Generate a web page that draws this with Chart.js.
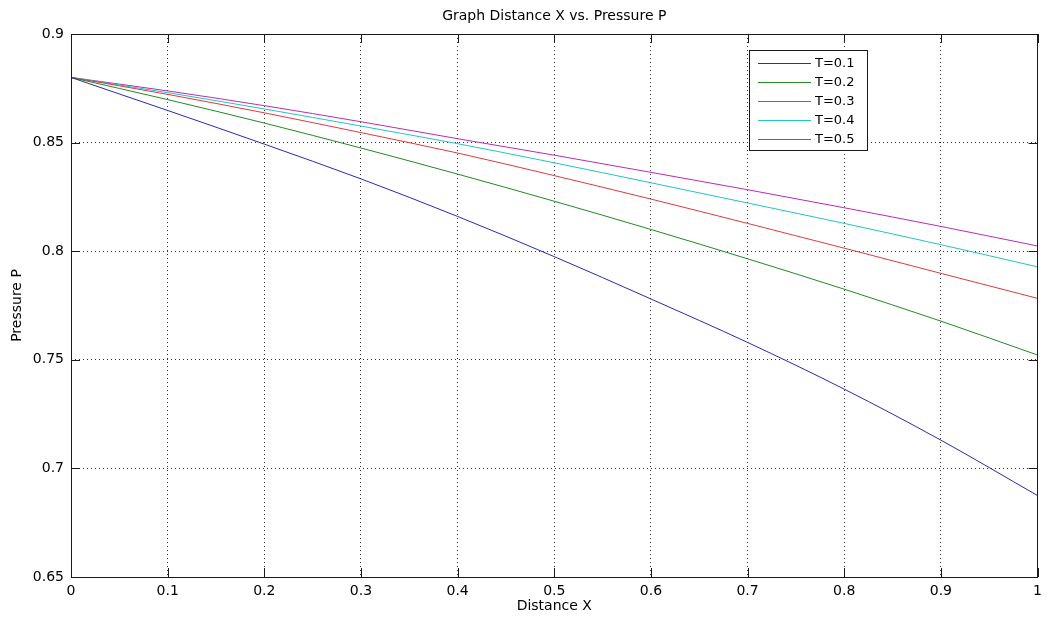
<!DOCTYPE html>
<html>
<head>
<meta charset="utf-8">
<script src="https://cdn.jsdelivr.net/npm/chart.js@4.4.0/dist/chart.umd.min.js"></script>
<style>
html,body{margin:0;padding:0;background:#fff;}
#wrap{width:1048px;height:617px;}
</style>
</head>
<body>
<div id="wrap"><canvas id="c" width="1048" height="617"></canvas></div>
<script>
// ---- data ----
const distanceX = [0, 0.1, 0.2, 0.3, 0.4, 0.5, 0.6, 0.7, 0.8, 0.9, 1.0];
const seriesLabels = ['T=0.1', 'T=0.2', 'T=0.3', 'T=0.4', 'T=0.5'];
const pressureT01 = [0.880, 0.8648, 0.8493, 0.8333, 0.8160, 0.7975, 0.7780, 0.7580, 0.7365, 0.7130, 0.6875];
const pressureT02 = [0.880, 0.8698, 0.8590, 0.8475, 0.8355, 0.8230, 0.8100, 0.7965, 0.7825, 0.7678, 0.7522];
const pressureT03 = [0.880, 0.8722, 0.8637, 0.8546, 0.8452, 0.8348, 0.8240, 0.8128, 0.8014, 0.7898, 0.7783];
const pressureT04 = [0.880, 0.8730, 0.8655, 0.8576, 0.8495, 0.8407, 0.8315, 0.8222, 0.8128, 0.8030, 0.7928];
const pressureT05 = [0.880, 0.8738, 0.8670, 0.8596, 0.8518, 0.8442, 0.8363, 0.8283, 0.8200, 0.8114, 0.8024];
const xTickValues = [0, 0.1, 0.2, 0.3, 0.4, 0.5, 0.6, 0.7, 0.8, 0.9, 1];
const xTickLabels = ['0', '0.1', '0.2', '0.3', '0.4', '0.5', '0.6', '0.7', '0.8', '0.9', '1'];
const yTickValues = [0.65, 0.7, 0.75, 0.8, 0.85, 0.9];
const yTickLabels = ['0.65', '0.7', '0.75', '0.8', '0.85', '0.9'];
const titleText = 'Graph Distance X vs. Pressure P';
const xTitle = 'Distance X';
const yTitle = 'Pressure P';

const seriesValues = [pressureT01, pressureT02, pressureT03, pressureT04, pressureT05];
const seriesColors = ['#2a2ab4', '#218a21', '#e03a3a', '#22c4c4', '#b62cb6'];

Chart.defaults.font.family = "'DejaVu Sans', sans-serif";
Chart.defaults.font.size = 14;
Chart.defaults.color = '#000';

const datasets = seriesValues.map((vals, i) => ({
  label: seriesLabels[i],
  data: distanceX.map((x, j) => ({x: x, y: vals[j]})),
  borderColor: seriesColors[i],
  backgroundColor: seriesColors[i],
  borderWidth: 1,
  pointRadius: 0,
  fill: false,
  cubicInterpolationMode: 'monotone'
}));

const frameAndLegend = {
  id: 'frameAndLegend',
  afterDraw(chart) {
    const ctx = chart.ctx;
    const a = chart.chartArea;
    const xs = chart.scales.x, ys = chart.scales.y;
    ctx.save();
    ctx.strokeStyle = '#1a1a1a';
    ctx.lineWidth = 1;
    // inward tick marks
    const tl = 9;
    ctx.beginPath();
    xTickValues.forEach(v => {
      const px = Math.round(xs.getPixelForValue(v)) + 0.5;
      ctx.moveTo(px, a.bottom); ctx.lineTo(px, a.bottom - tl);
      ctx.moveTo(px, a.top); ctx.lineTo(px, a.top + tl);
    });
    yTickValues.forEach(v => {
      const py = Math.round(ys.getPixelForValue(v)) + 0.5;
      ctx.moveTo(a.left, py); ctx.lineTo(a.left + tl, py);
      ctx.moveTo(a.right, py); ctx.lineTo(a.right - tl, py);
    });
    ctx.stroke();
    // box
    ctx.strokeRect(Math.round(a.left) + 0.5, Math.round(a.top) + 0.5,
                   Math.round(a.right - a.left) - 1, Math.round(a.bottom - a.top));
    // legend
    const lx = 749, ly = 50, lw = 118, lh = 100;
    ctx.fillStyle = '#fff';
    ctx.fillRect(lx, ly, lw, lh);
    ctx.strokeStyle = '#1a1a1a';
    ctx.strokeRect(lx + 0.5, ly + 0.5, lw, lh);
    ctx.font = "13px 'DejaVu Sans', sans-serif";
    ctx.textBaseline = 'middle';
    ctx.textAlign = 'left';
    chart.data.datasets.forEach((ds, i) => {
      const y = ly + 13 + i * 19 + 0.5;
      ctx.strokeStyle = ds.borderColor;
      ctx.beginPath();
      ctx.moveTo(lx + 9, y); ctx.lineTo(lx + 62, y);
      ctx.stroke();
      ctx.fillStyle = '#000';
      ctx.fillText(ds.label, lx + 66, y);
    });
    ctx.restore();
  }
};

new Chart(document.getElementById('c'), {
  type: 'line',
  data: {datasets: datasets},
  options: {
    responsive: false,
    animation: false,
    devicePixelRatio: 1,
    layout: {padding: {left: 0, right: 1, top: 0, bottom: 0}},
    plugins: {
      legend: {display: false},
      tooltip: {enabled: false},
      title: {
        display: true,
        text: titleText,
        fullSize: false,
        color: '#000',
        font: {size: 14, weight: 'normal', family: "'DejaVu Sans', sans-serif"},
        padding: {top: 8, bottom: 9.2}
      }
    },
    scales: {
      x: {
        type: 'linear',
        min: 0, max: 1,
        afterBuildTicks: s => { s.ticks = xTickValues.map(v => ({value: v})); },
        afterFit: s => { s.height = 40; },
        ticks: {
          padding: 6,
          maxRotation: 0,
          autoSkip: false,
          callback: (v, i) => xTickLabels[i]
        },
        grid: {color: '#333', lineWidth: 1, drawTicks: false},
        border: {display: false, dash: [1, 3]},
        title: {display: true, text: xTitle, padding: {top: 0, bottom: 2.6}, font: {size: 14}}
      },
      y: {
        type: 'linear',
        min: 0.65, max: 0.9,
        afterBuildTicks: s => { s.ticks = yTickValues.map(v => ({value: v})); },
        afterFit: s => { s.width = 71; },
        ticks: {
          padding: 7,
          autoSkip: false,
          callback: (v, i) => yTickLabels[i]
        },
        grid: {color: '#333', lineWidth: 1, drawTicks: false},
        border: {display: false, dash: [1, 3]},
        title: {display: true, text: yTitle, padding: {top: 8.6, bottom: 0}, font: {size: 14}}
      }
    }
  },
  plugins: [frameAndLegend]
});
</script>
</body>
</html>
